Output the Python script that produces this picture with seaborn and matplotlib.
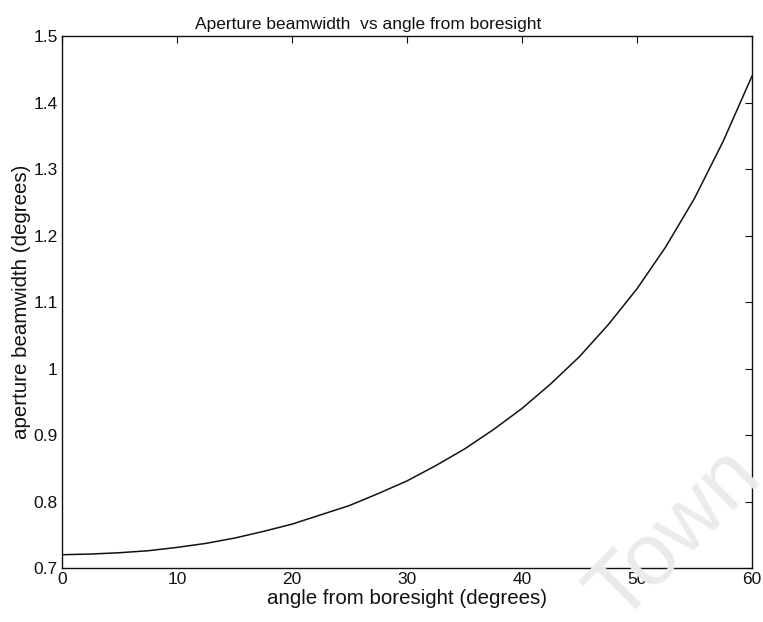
import matplotlib
matplotlib.use("Agg")
import matplotlib.pyplot as plt
import seaborn as sns
import pandas as pd

# Values
angle_deg = [0, 2.5, 5, 7.5, 10, 12.5, 15, 17.5, 20, 22.5, 25, 27.5, 30,
             32.5, 35, 37.5, 40, 42.5, 45, 47.5, 50, 52.5, 55, 57.5, 60]
beamwidth_deg = [0.720, 0.721, 0.723, 0.726, 0.731, 0.737, 0.745, 0.755, 0.766,
                 0.780, 0.794, 0.812, 0.831, 0.854, 0.879, 0.908, 0.940, 0.977,
                 1.018, 1.066, 1.120, 1.183, 1.256, 1.342, 1.440]
x_ticks = [0, 10, 20, 30, 40, 50, 60]
y_ticks = [0.7, 0.8, 0.9, 1.0, 1.1, 1.2, 1.3, 1.4, 1.5]
y_ticklabels = ["0.7", "0.8", "0.9", "1", "1.1", "1.2", "1.3", "1.4", "1.5"]

df = pd.DataFrame({"angle": angle_deg, "bw": beamwidth_deg})

sns.set_style("white")
plt.rcParams["font.family"] = ["Liberation Sans", "DejaVu Sans"]

fig = plt.figure(figsize=(7.63, 6.22), dpi=100)

# faint watermark behind everything
fig.text(0.885, 0.14, "Town", fontsize=63, color="#ebebeb", rotation=45,
         ha="center", va="center", zorder=0)

ax = fig.add_axes([0.0813, 0.0868, 0.9043, 0.8552])
ax.patch.set_alpha(0)

sns.lineplot(data=df, x="angle", y="bw", ax=ax, color="#111111", linewidth=1.1)

ax.set_xlim(0, 60)
ax.set_ylim(0.7, 1.5)
ax.set_xticks(x_ticks)
ax.set_xticklabels([str(t) for t in x_ticks])
ax.set_yticks(y_ticks)
ax.set_yticklabels(y_ticklabels)
ax.tick_params(direction="in", length=5, width=0.8, top=True, right=True,
               labelsize=12.5, colors="#111111", pad=3)
for s in ax.spines.values():
    s.set_visible(True)
    s.set_color("#111111")
    s.set_linewidth(1.0)

ax.set_xlabel("angle from boresight (degrees)", fontsize=14.8, color="#111111", labelpad=1)
ax.set_ylabel("aperture beamwidth (degrees)", fontsize=14.8, color="#111111", labelpad=2)
ax.set_title("Aperture beamwidth  vs angle from boresight", fontsize=12.5,
             color="#111111", pad=5, x=0.443)

fig.savefig("out.png", dpi=100)
